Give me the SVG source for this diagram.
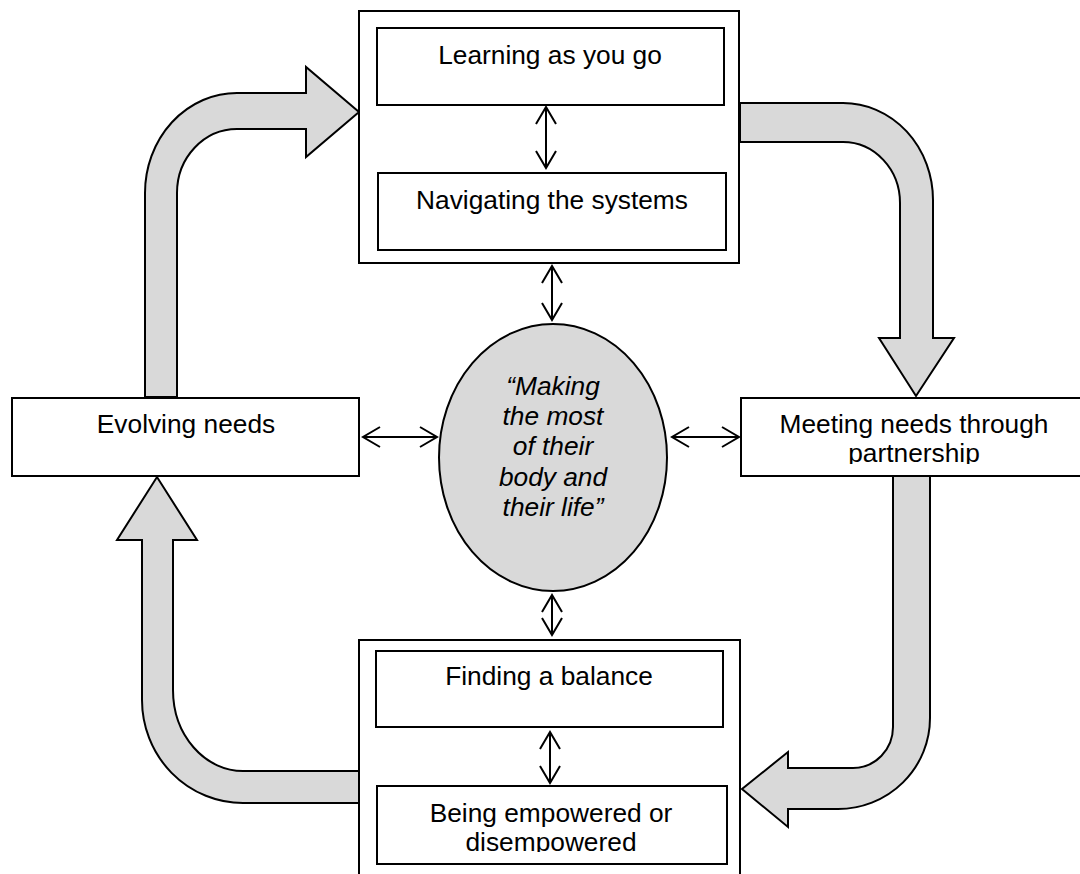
<svg xmlns="http://www.w3.org/2000/svg" width="1080" height="874" viewBox="0 0 1080 874">
<style>
.box{fill:#fff;stroke:#000;stroke-width:2}
.big{fill:#d9d9d9;stroke:#000;stroke-width:2;stroke-linejoin:miter}
.lbl{font-family:"Liberation Sans",Arial,sans-serif;font-size:26.3px;fill:#000;text-anchor:middle}
.it{font-style:italic}
.con{stroke:#000;stroke-width:2;fill:none;marker-start:url(#oa);marker-end:url(#oa)}
</style>
<defs>
<marker id="oa" viewBox="-2 -2 21 24" refX="17" refY="10" markerWidth="21" markerHeight="24" markerUnits="userSpaceOnUse" orient="auto-start-reverse">
<path d="M0,0 L17,10 L0,20" fill="none" stroke="#000" stroke-width="2"/>
</marker>
<clipPath id="clipR"><rect x="741" y="398" width="340" height="66"/></clipPath>
<clipPath id="clipB"><rect x="377" y="786" width="350" height="66"/></clipPath>
</defs>
<rect width="1080" height="874" fill="#fff"/>
<g id="bigArrows">
<path class="big" d="M145,397 L145,193 A92,100 0 0 1 237,93 L306,93 L306,67 L359,112 L306,157 L306,129 L237,129 A60,64 0 0 0 177,193 L177,397 Z"/>
<path class="big" d="M740,103 L843,103 A90,97 0 0 1 933,200 L933,338 L954,338 L916,396 L879,338 L900,338 L900,203 A57,61 0 0 0 843,142 L740,142 Z"/>
<path class="big" d="M893,476 L893,727 A40,41 0 0 1 853,768 L788,768 L788,752 L742,789 L788,827 L788,809 L838,809 A92,91 0 0 0 930,718 L930,476 Z"/>
<path class="big" d="M359,771 L243,771 A70,81 0 0 1 173,690 L173,540 L197,540 L157,477 L117,540 L142,540 L142,700 A101,103 0 0 0 243,803 L359,803 Z"/>
</g>
<g id="top">
<rect class="box" x="359" y="11" width="380" height="252"/>
<g id="learning">
<rect class="box" x="377" y="28" width="347" height="77"/>
<text class="lbl" x="550" y="64">Learning as you go</text>
</g>
<g id="navigating">
<rect class="box" x="378" y="173" width="348" height="77"/>
<text class="lbl" x="552" y="209">Navigating the systems</text>
</g>
</g>
<g id="bottom">
<rect class="box" x="359" y="640" width="381" height="250"/>
<g id="balance">
<rect class="box" x="376" y="651" width="347" height="76"/>
<text class="lbl" x="549" y="685">Finding a balance</text>
</g>
<g id="empowered">
<rect class="box" x="377" y="786" width="350" height="78"/>
<g clip-path="url(#clipB)">
<text class="lbl" x="551" y="822">Being empowered or</text>
<text class="lbl" x="551" y="851">disempowered</text>
</g>
</g>
</g>
<g id="evolving">
<rect class="box" x="12" y="398" width="347" height="78"/>
<text class="lbl" x="186" y="433">Evolving needs</text>
</g>
<g id="meeting">
<rect class="box" x="741" y="398" width="345" height="78"/>
<g clip-path="url(#clipR)">
<text class="lbl" x="914" y="433">Meeting needs through</text>
<text class="lbl" x="914" y="462">partnership</text>
</g>
</g>
<g id="centre">
<ellipse cx="553" cy="457.5" rx="114" ry="133.5" fill="#d9d9d9" stroke="#000" stroke-width="2"/>
<text class="lbl it" x="553" y="395">“Making</text>
<text class="lbl it" x="553" y="425">the most</text>
<text class="lbl it" x="553" y="455">of their</text>
<text class="lbl it" x="553" y="486">body and</text>
<text class="lbl it" x="553" y="516">their life”</text>
</g>
<g id="connectors">
<line class="con" x1="546" y1="107" x2="546" y2="168"/>
<line class="con" x1="552" y1="266" x2="552" y2="320"/>
<line class="con" x1="363" y1="437" x2="437" y2="437"/>
<line class="con" x1="672" y1="437" x2="739" y2="437"/>
<line class="con" x1="552" y1="595" x2="552" y2="635"/>
<line class="con" x1="550" y1="732" x2="550" y2="783"/>
</g>
</svg>
